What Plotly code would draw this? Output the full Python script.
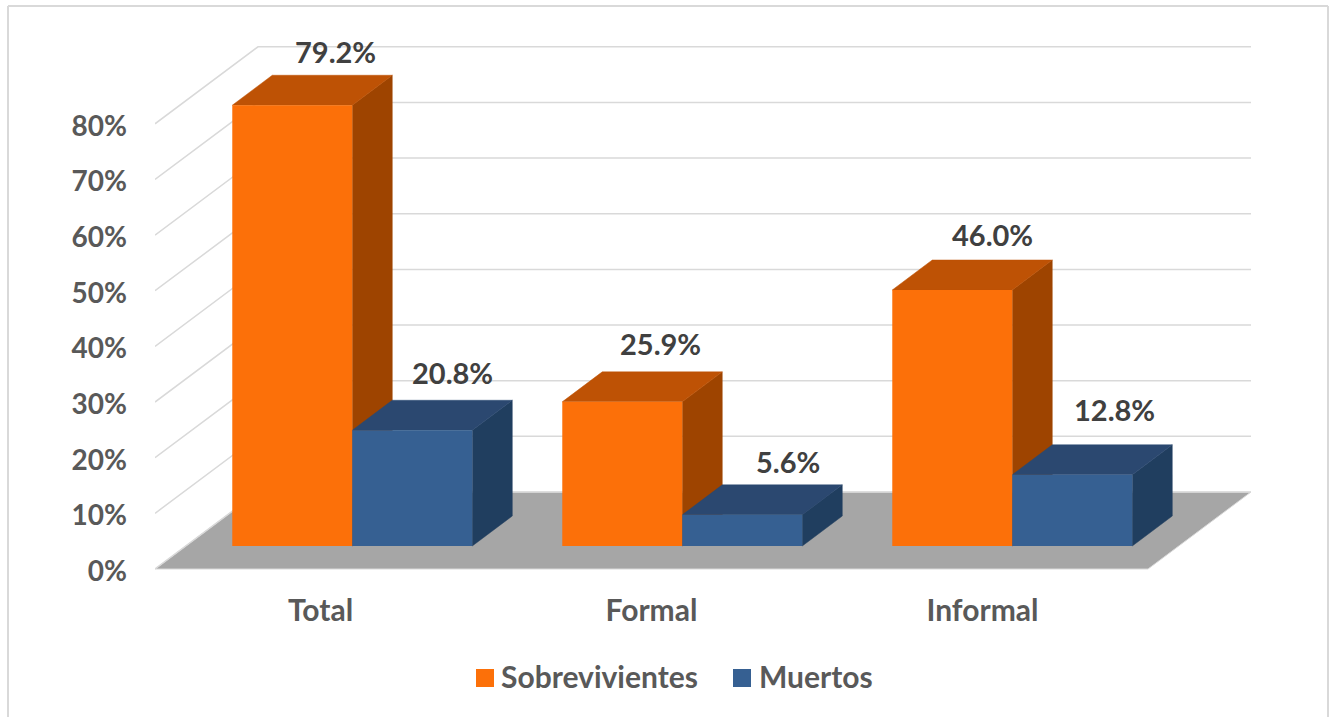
import plotly.graph_objects as go

categories = ["Total", "Formal", "Informal"]
series_names = ["Sobrevivientes", "Muertos"]
sobrevivientes = [79.2, 25.9, 46.0]
muertos = [20.8, 5.6, 12.8]
y_ticks = [0, 10, 20, 30, 40, 50, 60, 70, 80]

# colours: front, top, side
orange = ["#FC7009", "#BE5205", "#9E4400"]
blue = ["#366092", "#2B4870", "#203E5F"]
text_grey = "#595959"
label_grey = "#404040"
font_name = "Lato"

# picture scale, pixels for one category and for one percent
W, H = 1331, 717
left, top, right, bottom = 155, 30, 71, 143
px_x = 331.0
px_y = 5.565
x_min = -0.5
x_max = x_min + (W - left - right) / px_x
y_min = -5 / px_y
y_max = y_min + (H - top - bottom) / px_y

bar_w = 120 / px_x
group_pitch = 330 / px_x
group_shift = 0.096
base = 23 / px_y
bar_dx = 40 / px_x
bar_dy = 30 / px_y
wall_dx = 103 / px_x
wall_dy = 77 / px_y
label_drop = 2 / px_y


def paper_x(px):
    return (px - left) / (W - left - right)


def paper_y(py):
    return (H - bottom - py) / (H - top - bottom)


def group_x(i):
    return i * group_pitch + group_shift


fig = go.Figure()


def polygon(xs, ys, color):
    fig.add_trace(go.Scatter(x=xs, y=ys, mode="lines", fill="toself", fillcolor=color,
                             line=dict(color=color, width=0.5), showlegend=False,
                             hoverinfo="skip"))


# floor and walls
fig.add_trace(go.Scatter(x=[-0.5, -0.5 + wall_dx, 2.5 + wall_dx, 2.5, -0.5],
                         y=[0, wall_dy, wall_dy, 0, 0], mode="lines", fill="toself",
                         fillcolor="#A6A6A6", line=dict(color="#D9D9D9", width=1),
                         showlegend=False, hoverinfo="skip"))
grid_x = []
grid_y = []
for t in y_ticks:
    grid_x += [-0.5, -0.5 + wall_dx, 2.5 + wall_dx, None]
    grid_y += [t, t + wall_dy, t + wall_dy, None]
fig.add_trace(go.Scatter(x=grid_x, y=grid_y, mode="lines",
                         line=dict(color="#D9D9D9", width=1.5),
                         showlegend=False, hoverinfo="skip"))

# sides and tops of the bars, the fronts go on the overlay axes
for i in range(len(categories)):
    for s, (values, colors) in enumerate([(sobrevivientes, orange), (muertos, blue)]):
        x0 = group_x(i) + (s - 1) * bar_w
        x1 = x0 + bar_w
        y1 = base + values[i]
        polygon([x1, x1 + bar_dx, x1 + bar_dx, x1, x1],
                [base, base + bar_dy, y1 + bar_dy, y1, base], colors[2])
        polygon([x0, x0 + bar_dx, x1 + bar_dx, x1, x0],
                [y1, y1 + bar_dy, y1 + bar_dy, y1, y1], colors[1])

for s, (values, colors) in enumerate([(sobrevivientes, orange), (muertos, blue)]):
    fig.add_trace(go.Bar(name=series_names[s],
                         x=[group_x(i) + (s - 0.5) * bar_w for i in range(3)],
                         y=values, base=base, width=bar_w,
                         marker=dict(color=colors[0], line=dict(width=0)),
                         xaxis="x2", yaxis="y2", showlegend=False))

# data labels
annotations = []
label_font = dict(family=font_name, size=29, color=label_grey, weight=700)
shifts = [[(43, 54), (38, 58), (40, 56)], [(40, 58), (46, 53), (42, 65)]]
for s, values in enumerate([sobrevivientes, muertos]):
    for i, v in enumerate(values):
        annotations.append(dict(x=group_x(i) + (s - 0.5) * bar_w, y=base + v,
                                xref="x", yref="y", text="%.1f%%" % v, showarrow=False,
                                xshift=shifts[s][i][0], yshift=shifts[s][i][1],
                                font=label_font))

# legend drawn by hand for the large swatches
shapes = []
legend_items = [(476, 499, orange[0]), (733, 757, blue[0])]
for name, (swatch, text_x, color) in zip(series_names, legend_items):
    shapes.append(dict(type="rect", xref="paper", yref="paper", x0=paper_x(swatch),
                       x1=paper_x(swatch + 18), y0=paper_y(687), y1=paper_y(669),
                       fillcolor=color, line=dict(width=0)))
    annotations.append(dict(x=paper_x(text_x), y=paper_y(676), xref="paper", yref="paper",
                            xanchor="left", yanchor="middle", text=name, showarrow=False,
                            font=dict(family=font_name, size=30, color=text_grey, weight=700)))

# outer frame
frame = dict(color="#D9D9D9", width=2)
for x0, y0, x1, y1 in [(8, 6, 8, 717), (8, 6, 1328, 6), (1328, 6, 1328, 717)]:
    shapes.append(dict(type="line", xref="paper", yref="paper", x0=paper_x(x0), x1=paper_x(x1),
                       y0=paper_y(y0), y1=paper_y(y1), line=frame))

fig.update_layout(
    width=W, height=H, margin=dict(l=left, r=right, t=top, b=bottom),
    paper_bgcolor="white", plot_bgcolor="white", barmode="overlay", showlegend=False,
    annotations=annotations, shapes=shapes,
    xaxis=dict(range=[x_min, x_max], tickvals=[0, 1, 2], ticktext=categories, showgrid=False,
               zeroline=False, showline=False, ticks="",
               tickfont=dict(family=font_name, size=30, color=text_grey, weight=700),
               ticklabelstandoff=16),
    yaxis=dict(range=[y_min, y_max], tickvals=[t - label_drop for t in y_ticks],
               ticktext=["%d%%" % t for t in y_ticks],
               showgrid=False, zeroline=False, showline=False, ticks="",
               tickfont=dict(family=font_name, size=28, color=text_grey, weight=700),
               ticklabelstandoff=27),
    xaxis2=dict(range=[x_min, x_max], overlaying="x", visible=False, matches="x"),
    yaxis2=dict(range=[y_min, y_max], overlaying="y", visible=False, matches="y"),
)

fig.write_html("out.html", config={"displayModeBar": False},
               post_script="document.body.style.margin='0';")
